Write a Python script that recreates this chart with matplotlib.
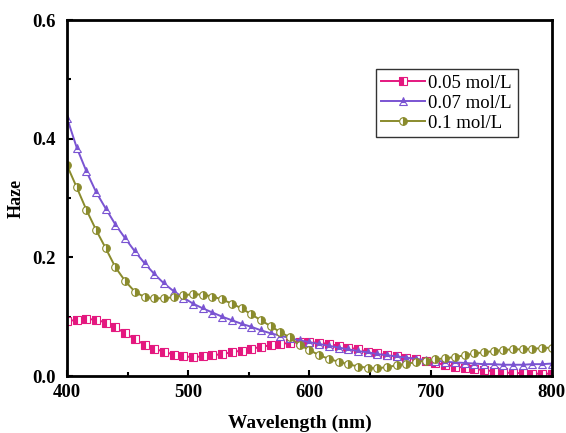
import numpy as np
import matplotlib
matplotlib.use("Agg")
import matplotlib.pyplot as plt
from matplotlib.ticker import MultipleLocator

wavelength = list(range(400, 801, 8))

haze_005 = [0.092, 0.095, 0.096, 0.095, 0.090, 0.082, 0.072, 0.062, 0.053, 0.046,
            0.041, 0.036, 0.033, 0.032, 0.033, 0.035, 0.037, 0.040, 0.043, 0.046,
            0.049, 0.052, 0.054, 0.056, 0.057, 0.057, 0.056, 0.054, 0.051, 0.048,
            0.045, 0.041, 0.038, 0.035, 0.033, 0.031, 0.028, 0.025, 0.022, 0.019,
            0.016, 0.014, 0.012, 0.010, 0.008, 0.006, 0.005, 0.005, 0.004, 0.004,
            0.004]
haze_007 = [0.435, 0.385, 0.345, 0.310, 0.282, 0.255, 0.232, 0.210, 0.190, 0.172,
            0.156, 0.143, 0.132, 0.122, 0.114, 0.107, 0.100, 0.094, 0.088, 0.083,
            0.077, 0.072, 0.068, 0.064, 0.060, 0.057, 0.054, 0.051, 0.048, 0.045,
            0.042, 0.040, 0.037, 0.035, 0.033, 0.031, 0.029, 0.027, 0.026, 0.024,
            0.023, 0.022, 0.021, 0.020, 0.020, 0.019, 0.019, 0.019, 0.020, 0.020,
            0.021]
haze_01 = [0.355, 0.318, 0.280, 0.246, 0.215, 0.183, 0.160, 0.142, 0.133, 0.131,
           0.131, 0.133, 0.136, 0.138, 0.137, 0.134, 0.129, 0.122, 0.114, 0.104,
           0.094, 0.084, 0.074, 0.065, 0.052, 0.044, 0.035, 0.029, 0.024, 0.020,
           0.016, 0.014, 0.013, 0.015, 0.018, 0.021, 0.023, 0.026, 0.028, 0.030,
           0.032, 0.035, 0.038, 0.040, 0.042, 0.044, 0.045, 0.045, 0.046, 0.047,
           0.048]
labels = ["0.05 mol/L", "0.07 mol/L", "0.1 mol/L"]

plt.rcParams['font.family'] = ['Liberation Serif', 'DejaVu Serif']

fig = plt.figure(figsize=(5.66, 4.33), dpi=100)
ax = fig.add_axes([0.1184, 0.1316, 0.8566, 0.8222])

styles = [
    (haze_005, '#e4187f', 's', 'left'),
    (haze_007, '#7a54d2', '^', 'top'),
    (haze_01, '#8a8b2d', 'o', 'right'),
]
for (vals, col, mk, fs), lab in zip(styles, labels):
    ax.plot(wavelength, vals, color=col, lw=1.4, marker=mk, ms=5.5,
            fillstyle=fs, markerfacecoloralt='white', markeredgecolor=col,
            markeredgewidth=0.8, label=lab)

ax.set_xlim(400, 800)
ax.set_ylim(0, 0.6)
ax.xaxis.set_major_locator(MultipleLocator(100))
ax.xaxis.set_minor_locator(MultipleLocator(50))
ax.yaxis.set_minor_locator(MultipleLocator(0.1))
ax.set_yticks([0, 0.2, 0.4, 0.6])
ax.set_yticklabels(['0.0', '0.2', '0.4', '0.6'])
ax.tick_params(which='both', direction='in', width=1.5, labelsize=13.5)
ax.tick_params(which='major', length=4)
ax.tick_params(which='minor', length=3)
ax.tick_params(axis='x', pad=6)
ax.tick_params(axis='y', pad=8)
for t in ax.get_xticklabels() + ax.get_yticklabels():
    t.set_fontweight('bold')
for s in ax.spines.values():
    s.set_linewidth(2)

ax.set_xlabel('Wavelength (nm)', fontsize=14, fontweight='bold')
ax.set_ylabel('Haze', fontsize=13, fontweight='bold')
ax.xaxis.set_label_coords(0.48, -0.108)
ax.yaxis.set_label_coords(-0.087, 0.5)

leg = ax.legend(loc='upper left', bbox_to_anchor=(0.637, 0.862), fontsize=13.5,
                frameon=True, fancybox=False, edgecolor='black',
                handlelength=2.3, handletextpad=0.2, borderpad=0.3,
                labelspacing=0.15, borderaxespad=0)
leg.get_frame().set_linewidth(1.0)

fig.savefig('out.png', dpi=100)
